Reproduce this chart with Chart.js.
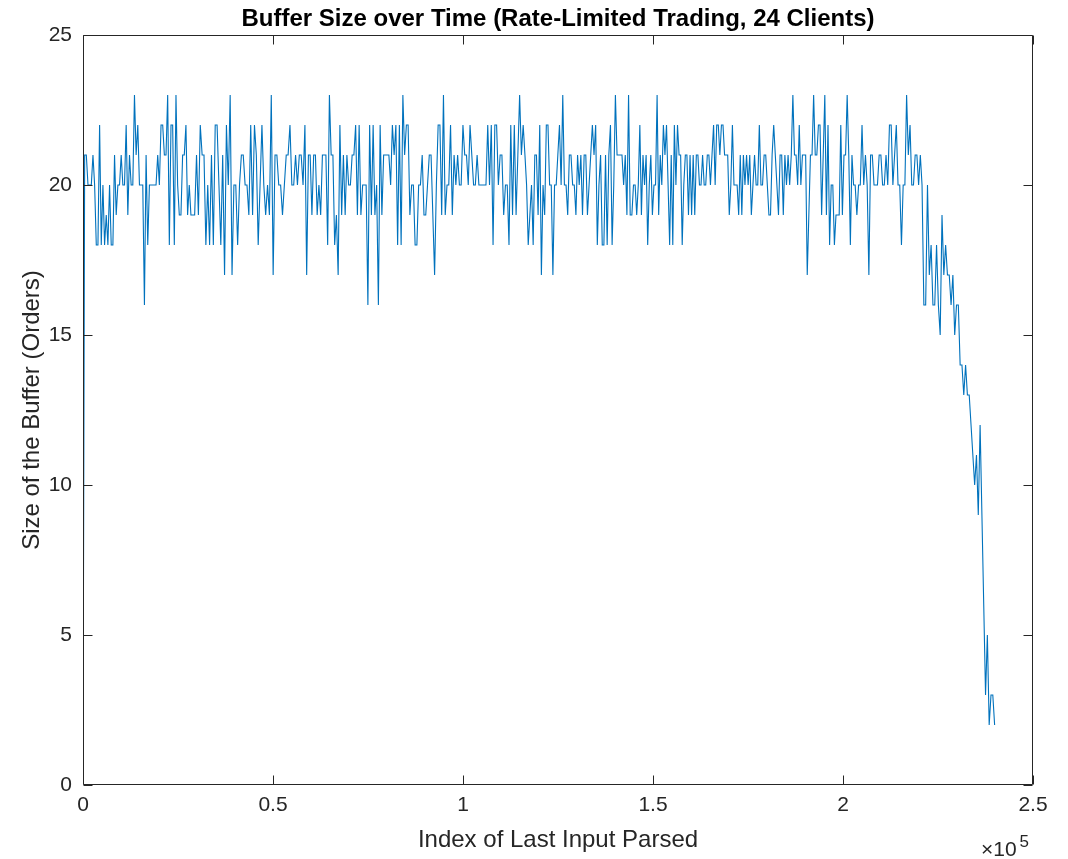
<!DOCTYPE html>
<html>
<head>
<meta charset="utf-8">
<script src="https://cdn.jsdelivr.net/npm/chart.js@4/dist/chart.umd.min.js"></script>
<style>
html,body{margin:0;padding:0;background:#ffffff;}
canvas{display:block;}
</style>
</head>
<body>
<canvas id="chart" width="1068" height="859"></canvas>
<script>
// ---- Data ----
const chartTitle = 'Buffer Size over Time (Rate-Limited Trading, 24 Clients)';
const xAxisTitle = 'Index of Last Input Parsed';
const yAxisTitle = 'Size of the Buffer (Orders)';
const xTickValues = [0, 50000, 100000, 150000, 200000, 250000];
const xTickLabels = ['0', '0.5', '1', '1.5', '2', '2.5'];
const yTickValues = [0, 5, 10, 15, 20, 25];
const xExponentLabel = '\u00d710';
const xExponent = '5';

// buffer size, stretch by stretch (left to right)
const buffer1 = [1, 21, 21, 20, 20, 20, 21, 20, 18, 18, 22, 18, 20, 18, 19, 18, 20, 18, 18, 21, 19, 20, 20, 21, 20, 20, 22, 19, 21, 20, 20, 23, 21, 22, 20, 20, 20, 16, 21, 18, 20, 20, 20, 20, 20, 21, 20, 22, 22, 21, 21, 23, 18, 22, 22, 18, 23, 20, 19, 19, 21, 21, 22, 19, 20, 19];
const buffer2 = [19, 19, 21, 19, 22, 21, 21, 18, 20, 18, 21, 18, 22, 22, 20, 18, 21, 17, 22, 20, 23, 17, 20, 20, 18, 20, 21, 21, 20, 20, 19, 22, 19, 22, 21, 18, 20, 22, 20, 19, 20, 19, 23, 17, 21, 21, 20, 20, 19, 20, 21, 21, 22, 20, 20, 21, 20, 21, 21, 20, 22];
const buffer3 = [17, 21, 21, 19, 21, 21, 19, 20, 19, 21, 21, 21, 18, 23, 21, 21, 18, 19, 17, 22, 19, 21, 19, 21, 20, 20, 21, 21, 22, 19, 22, 19, 20, 20, 20, 16, 22, 19, 22, 19, 20, 16, 22, 19, 21, 21, 21, 21, 20, 22, 21, 22, 18, 22, 18, 23, 21, 22, 22, 19, 20, 20, 18];
const buffer4 = [18, 20, 20, 21, 19, 19, 20, 21, 21, 19, 17, 20, 22, 22, 19, 23, 19, 20, 20, 22, 19, 21, 20, 21, 20, 20, 22, 21, 21, 20, 22, 21, 20, 20, 21, 20, 20, 20, 20, 20, 22, 20, 22, 18, 22, 22, 20, 21, 21, 19, 20, 20, 18, 22, 19, 22, 19, 21, 23, 21, 22, 21];
const buffer5 = [20, 18, 19, 20, 18, 21, 21, 19, 22, 17, 20, 19, 22, 22, 20, 20, 17, 20, 20, 21, 22, 20, 23, 20, 20, 19, 21, 21, 20, 20, 19, 21, 20, 21, 19, 21, 21, 19, 20, 21, 22, 21, 22, 18, 20, 21, 18, 18, 21, 18, 21, 22, 18, 20, 23, 21, 21, 21, 21, 20, 21, 19, 23, 19, 19, 20, 20];
const buffer6 = [19, 20, 22, 19, 21, 20, 21, 18, 20, 21, 19, 20, 20, 23, 19, 21, 20, 22, 21, 22, 20, 18, 21, 18, 22, 20, 22, 21, 21, 18, 20, 21, 21, 19, 21, 19, 21, 19, 21, 21, 20, 20, 21, 20, 20, 21, 21, 20, 21, 22, 20, 22, 22, 21, 22, 22, 21, 21, 21, 19, 20, 22, 20, 20, 20, 19, 21, 19, 21, 20];
const buffer7 = [21, 20, 21, 19, 20, 21, 20, 20, 22, 20, 20, 21, 21, 20, 19, 19, 21, 22, 21, 20, 19, 21, 21, 19, 21, 20, 21, 20, 21, 23, 21, 21, 20, 22, 20, 21, 21, 21, 17, 19, 21, 21, 23, 21, 21, 22, 22, 19, 21, 23, 19, 22, 18, 20, 20, 18, 19, 19, 19, 22, 19, 21, 21, 23, 21, 18, 21, 20, 20];
const buffer8 = [19, 20, 20, 22, 20, 21, 20, 17, 21, 21, 20, 20, 20, 21, 21, 20, 20, 21, 20, 22, 22, 20, 21, 22, 20, 20, 18, 20, 20, 23, 21, 22, 20, 20, 21, 21, 20, 21, 20];
const buffer9 = [16, 16, 20, 17, 18, 16, 16, 18, 16, 15, 19, 17, 18, 17, 17, 16, 17, 15, 16, 16, 14, 14, 13, 14, 13, 13, 12, 11, 10, 11, 9, 12, 9, 6, 3, 5, 2, 3, 3, 2];
// input index at which each stretch above ends
const stretchEnds = [28400, 58400, 87400, 116300, 145300, 174200, 203200, 220800, 239900];

// ---- Build the (x, y) series ----
const stretches = [buffer1, buffer2, buffer3, buffer4, buffer5, buffer6, buffer7, buffer8, buffer9];
const points = [];
let stretchStart = 0;
stretches.forEach((vals, k) => {
  const end = stretchEnds[k];
  const n = vals.length;
  vals.forEach((v, j) => {
    const x = k === 0
      ? stretchStart + j * (end - stretchStart) / (n - 1)
      : stretchStart + (j + 1) * (end - stretchStart) / n;
    points.push({ x: x, y: v });
  });
  stretchStart = end;
});

const FONT = '"Liberation Sans", Arial, Helvetica, sans-serif';
const AXIS_COLOR = '#262626';

const framePlugin = {
  id: 'matlabFrame',
  afterDraw(chart) {
    const { ctx, chartArea: a, scales } = chart;
    const xs = scales.x, ys = scales.y;
    const L = Math.round(a.left) + 0.5, R = Math.round(a.right) - 0.5;
    const T = Math.round(a.top) + 0.5, B = Math.round(a.bottom) - 0.5;
    const tick = 9;
    ctx.save();
    ctx.strokeStyle = AXIS_COLOR;
    ctx.lineWidth = 1;
    ctx.beginPath();
    ctx.moveTo(L, T); ctx.lineTo(R, T); ctx.lineTo(R, B); ctx.lineTo(L, B); ctx.closePath();
    xTickValues.forEach(v => {
      const px = Math.round(xs.getPixelForValue(v)) + 0.5;
      ctx.moveTo(px, B); ctx.lineTo(px, B - tick);
      ctx.moveTo(px, T); ctx.lineTo(px, T + tick);
    });
    yTickValues.forEach(v => {
      const py = Math.round(ys.getPixelForValue(v)) + 0.5;
      ctx.moveTo(L, py); ctx.lineTo(L + tick, py);
      ctx.moveTo(R, py); ctx.lineTo(R - tick, py);
    });
    ctx.stroke();
    // x10^5 exponent label
    ctx.fillStyle = AXIS_COLOR;
    ctx.textBaseline = 'alphabetic';
    ctx.textAlign = 'left';
    ctx.font = '21px ' + FONT;
    const ex = 981, ey = 856;
    ctx.fillText(xExponentLabel, ex, ey);
    const w = ctx.measureText(xExponentLabel).width;
    ctx.font = '17px ' + FONT;
    ctx.fillText(xExponent, ex + w + 3, ey - 9);
    ctx.restore();
  }
};

new Chart(document.getElementById('chart'), {
  type: 'line',
  data: {
    datasets: [{
      label: 'Buffer size',
      data: points,
      borderColor: '#0072BD',
      borderWidth: 1.1,
      pointRadius: 0,
      tension: 0,
      fill: false
    }]
  },
  options: {
    responsive: false,
    animation: false,
    layout: { padding: { left: 0, right: 35, top: 0, bottom: 0 } },
    plugins: {
      legend: { display: false },
      tooltip: { enabled: false },
      title: {
        display: true,
        text: chartTitle,
        fullSize: false,
        color: '#000000',
        font: { family: FONT, size: 24, weight: 'bold', lineHeight: 1.2 },
        padding: { top: 4.5, bottom: 1.7 }
      }
    },
    scales: {
      x: {
        type: 'linear',
        min: 0,
        max: 250000,
        afterFit(s) { s.height = 74; },
        afterBuildTicks(s) { s.ticks = xTickValues.map(v => ({ value: v })); },
        grid: { display: false, drawTicks: false },
        border: { display: false },
        ticks: {
          color: AXIS_COLOR,
          font: { family: FONT, size: 21 },
          padding: 8,
          maxRotation: 0,
          autoSkip: false,
          callback: (v) => xTickLabels[xTickValues.indexOf(v)]
        },
        title: {
          display: true,
          text: xAxisTitle,
          color: AXIS_COLOR,
          font: { family: FONT, size: 24, lineHeight: 1.2 },
          padding: { top: 0, bottom: 4 }
        }
      },
      y: {
        type: 'linear',
        min: 0,
        max: 25,
        afterFit(s) { s.width = 83; },
        afterBuildTicks(s) { s.ticks = yTickValues.map(v => ({ value: v })); },
        grid: { display: false, drawTicks: false },
        border: { display: false },
        ticks: {
          color: AXIS_COLOR,
          font: { family: FONT, size: 21 },
          padding: 11,
          autoSkip: false
        },
        title: {
          display: true,
          text: yAxisTitle,
          color: AXIS_COLOR,
          font: { family: FONT, size: 24, lineHeight: 1.2 },
          padding: { top: 18, bottom: 0 }
        }
      }
    }
  },
  plugins: [framePlugin]
});
</script>
</body>
</html>
